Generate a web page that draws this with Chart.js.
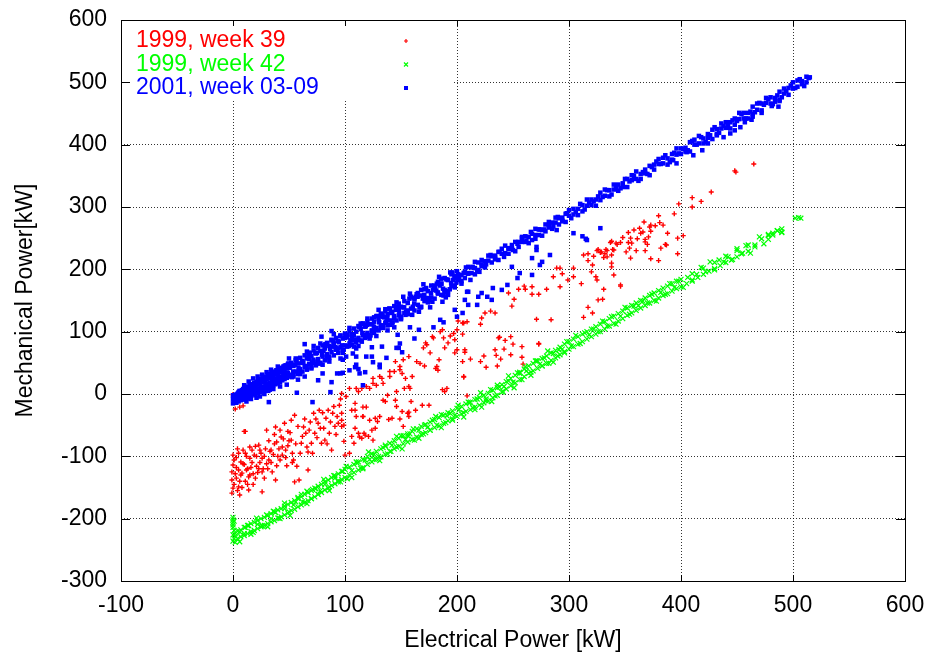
<!DOCTYPE html>
<html lang="en">
<head>
    <meta charset="UTF-8">
    <title>Mechanical vs Electrical Power</title>
    <script src="https://cdn.jsdelivr.net/npm/chart.js"></script>
    <style>
        body {
            margin: 0;
            padding: 0;
            background-color: #ffffff;
        }

        .wrap {
            width: 931px;
            height: 652px;
        }
    </style>
</head>
<body>
    <div class="wrap">
        <canvas id="powerChart" width="931" height="652"></canvas>
    </div>

    <script>
        // axis ranges and tick step
        const xRange = [-100, 600];
        const yRange = [-300, 600];
        const tickStep = 100;

        const seriesNames = ['1999, week 39', '1999, week 42', '2001, week 03-09'];
        const seriesColors = ['#ff0000', '#00ff00', '#0000ff'];

        // 1999, week 39  [electrical kW, mechanical kW]
        const week39 = [
            [0,-1],[2,-24],[9,-19],[6,-21],[10,-60],
            [-1,-159],[0,-151],[-1,-138],[-1,-125],[0,-114],[0,-98],[1,-106],[6,-162],[5,-149],[3,-135],[5,-122],
            [7,-109],[5,-95],[9,-90],[11,-60],[14,-154],[14,-133],[12,-122],[15,-103],[17,-90],[20,-84],[23,-82],
            [21,-116],[20,-135],[26,-125],[26,-157],[30,-58],[32,-106],[34,-90],[38,-138],[38,-53],[39,-77],
            [42,-106],[43,-69],[46,-47],[47,-90],[49,-60],[52,-42],[52,-74],[55,-34],[54,-106],[57,-116],[59,-138],
            [61,-79],[63,-53],[65,-63],[67,-93],[67,-122],[69,-45],[70,-79],[72,-31],[73,-63],[76,-47],[77,-26],
            [79,-79],[81,-55],[82,-74],[83,-39],[85,-26],[86,-63],[88,-90],[89,-31],[91,-52],[94,-47],[95,-18],
            [97,-31],[99,-50],[55,-141],
            [1,-145],[2,-128],[3,-118],[4,-155],[6,-140],[8,-127],[10,-113],[12,-100],[13,-145],[16,-118],
            [18,-128],[19,-98],[22,-126],[24,-110],[25,-95],[27,-120],[28,-100],[30,-112],[33,-92],[35,-125],
            [37,-80],[40,-100],[44,-85],[48,-115],[50,-75],[53,-95],
            [3,-102],[4,-88],[7,-130],[8,-150],[9,-112],[11,-95],[11,-140],[13,-120],[15,-85],[15,-130],
            [17,-110],[18,-145],[21,-100],[23,-120],[24,-90],[26,-103],[28,-135],[29,-88],[31,-120],[32,-75],
            [34,-110],[36,-97],[37,-65],[39,-115],[41,-88],[42,-58],[44,-98],[45,-72],[47,-102],[49,-83],
            [51,-62],[53,-110],[56,-80],[58,-52],[60,-95],[62,-68],[64,-40],[66,-85],[68,-58],[71,-95],
            [74,-40],[75,-70],[78,-55],[80,-30],[84,-80],[87,-45],[90,-20],[92,-65],[96,-8],[93,-36],
            [97,-42],[97,-52],[99,-76],[100,-98],[104,-95],[106,-68],[109,-55],[112,-63],[115,-71],[118,-66],
            [121,-68],[124,-58],[125,-74],[127,-55],[127,-39],[129,-44],[131,-36],[110,-36],[116,-36],[109,-26],
            [108,-79],[139,-41],[142,-39],[146,-20],[151,-28],[157,-36],[152,-52],[175,-18],
            [101,-4],[104,9],[106,-26],[109,-15],[112,4],[115,9],[116,-36],[119,12],[119,-21],[122,-42],[113,-69],
            [117,-63],[125,25],[128,14],[131,28],[134,-10],[138,-2],[140,28],[144,36],[146,4],[149,39],[152,55],
            [153,9],[156,-31],[157,12],[159,-12],[163,-26],[164,52],[169,-18],[170,74],[172,82],[176,66],[178,92],
            [181,41],[184,55],[187,103],[189,4],[191,9],[197,97],[198,66],[200,103],[206,114],[207,71],[209,-3],
            [97,1],[110,9],[122,9],[125,17],[133,25],[134,17],[136,-12],[140,36],[145,52],[149,44],[151,33],
            [154,25],[157,60],[158,9],[160,28],[157,-29],[167,49],[171,45],[173,79],[179,90],[182,44],[183,38],
            [185,100],[188,90],[187,7],[189,74],[192,82],[194,93],[198,87],[200,71],[201,117],[206,28],[145,-10],
            [149,-40],[116,-21],
            [205,96],[207,67],[205,52],[212,56],[206,27],[221,52],[224,61],[226,43],[234,71],[235,62],[236,45],
            [239,56],[238,91],[242,72],[248,92],[250,80],[248,63],[258,59],[259,48],[273,80],
            [205,114],[209,116],[221,112],[222,122],[225,130],[230,133],[234,130],[237,90],[243,86],[258,76],
            [246,162],[249,141],[251,152],[255,168],[260,173],[261,168],[267,172],[267,160],[273,160],[271,120],
            [273,81],[280,168],[284,119],[286,188],[289,202],[292,172],[292,202],[294,193],[299,183],[304,188],
            [304,202],[311,177],[313,123],[317,139],[321,130],[317,225],[317,214],[320,196],[321,207],[324,188],
            [325,183],[325,230],[326,151],[328,227],[330,152],[331,168],[331,219],[332,225],[334,230],[340,191],
            [346,173],
            [329,228],[334,220],[337,243],[340,231],[338,210],[338,204],[342,242],[346,243],[346,175],[348,251],
            [351,228],[353,243],[353,259],[355,250],[358,263],[360,230],[361,249],[363,266],[364,258],[367,276],
            [366,260],[368,248],[368,230],[370,240],[371,252],[372,268],[373,261],[373,271],[373,217],[377,270],
            [380,286],[380,214],[381,275],[382,234],[384,271],[386,240],[388,258],[394,289],[397,250],[397,225],
            [398,305],[402,254],[410,300],[410,315],[418,309],[427,324],[448,358],[449,356],[465,369],
            [338,245],[343,240],[356,242],[354,234],[333,232],[326,232],[339,232],[338,223],[322,221],[313,223],
            [355,218],[368,244],[387,239]
        ];

        // 1999, week 42
        const week42 = [
            [0,-198],[0,-202],[0,-206],[0,-210],[0,-214],[1,-204],
            [0,-236],[0,-226],[1,-232],[2,-238],[2,-224],[4,-232],[4,-220],[7,-218],[7,-229],[10,-227],[10,-214],
            [13,-211],[13,-224],[16,-221],[16,-208],[19,-206],[19,-219],[22,-216],[22,-203],[25,-200],[25,-213],
            [28,-211],[28,-198],[31,-195],[31,-208],[34,-205],[34,-192],[37,-189],[37,-203],[40,-199],[40,-186],
            [43,-184],[43,-197],[46,-194],[46,-180],[49,-177],[49,-191],[52,-187],[52,-174],[55,-171],[55,-185],
            [58,-181],[58,-168],[61,-165],[61,-178],[64,-174],[64,-161],[67,-158],[67,-171],[70,-168],[70,-155],
            [73,-151],[73,-165],[76,-161],[76,-148],[79,-145],[79,-158],[82,-154],[82,-141],[85,-138],[85,-151],
            [88,-147],[88,-134],[91,-131],[91,-144],[94,-141],[94,-128],[97,-124],[97,-137],[100,-134],[100,-121],
            [104,-117],[104,-130],[108,-126],[108,-113],[112,-109],[112,-122],[116,-118],[116,-105],[120,-100],
            [120,-113],[124,-109],[124,-96],[128,-92],[128,-105],[132,-101],[132,-88],[136,-84],[136,-97],
            [140,-92],[140,-79],[144,-75],[144,-88],[148,-84],[148,-71],[152,-67],[152,-80],[156,-77],[156,-64],
            [160,-60],[160,-73],[164,-69],[164,-56],[168,-52],[168,-65],[172,-62],[172,-49],[176,-45],[176,-58],
            [180,-54],[180,-41],[184,-38],[184,-51],[188,-47],[188,-34],[192,-30],[192,-43],[196,-40],[196,-27],
            [200,-23],[200,-36],
            [204,-32],[204,-20],[208,-16],[208,-28],[212,-25],[212,-13],[216,-9],[216,-21],[220,-18],[220,-6],
            [224,-2],[224,-14],[228,-11],[228,1],[232,6],[232,-6],[236,-2],[236,10],[240,15],[240,3],[244,8],
            [244,20],[248,25],[248,13],[252,18],[252,30],[256,35],[256,23],[260,28],[260,40],[264,45],[264,33],
            [268,37],[268,49],[272,53],[272,41],[276,45],[276,57],[280,61],[280,49],[284,54],[284,66],[288,70],
            [288,58],[292,63],[292,75],[296,80],[296,68],[300,72],[300,84],
            [304,88],[304,76],[308,80],[308,92],[312,96],[312,84],[316,88],[316,100],[320,104],[320,92],[324,96],
            [324,108],[328,112],[328,100],[332,104],[332,116],[336,121],[336,109],[340,113],[340,125],[344,129],
            [344,117],[348,121],[348,133],[352,138],[352,126],[356,130],[356,142],[360,146],[360,134],[364,138],
            [364,150],[368,154],[368,142],[372,146],[372,158],[376,162],[376,150],[380,154],[380,166],[384,170],
            [384,158],[388,161],[388,173],[392,177],[392,165],[396,169],[396,181],[400,184],[400,172],
            [405,177],[410,193],[410,183],[415,187],[420,202],[420,192],[425,197],[430,211],[430,201],[435,206],
            [440,221],[440,211],[445,215],[450,230],[450,220],[455,226],[460,239],[460,229],[466,236],[472,249],
            [478,256],[478,248],[482,258],[486,262],[490,265],[490,260],[502,282],[505,283],[507,282],
            [2,-228],[6,-221],[10,-224],[14,-211],[18,-222],[22,-209],[26,-212],[30,-194],[34,-200],[38,-190],
            [42,-200],[46,-184],[50,-189],[54,-178],[58,-166],[62,-173],[66,-156],[70,-168],[74,-152],[78,-155],
            [82,-145],[86,-149],[90,-131],[94,-139],[98,-124],[102,-136],[106,-123],[110,-109],[114,-119],[118,-106],
            [122,-105],[126,-97],[130,-100],[134,-86],[138,-96],[142,-82],[146,-85],[150,-67],[154,-73],[158,-64],
            [162,-74],[166,-58],[170,-64],[174,-53],[178,-42],[182,-50],[186,-33],[190,-46],[194,-31],[198,-34],
            [202,-25],[206,-30],[210,-13],[214,-22],[218,-8],[222,-21],[226,-8],[230,7],[234,-3],[238,11],
            [242,12],[246,21],[250,19],[254,34],[258,23],[262,37],[266,35],[270,53],[274,48],[278,58],
            [282,49],[286,65],[290,61],[294,72],[298,84],[302,77],[306,94],[310,81],[314,98],[318,95],
            [322,104],[326,100],[330,117],[334,109],[338,124],[342,112],[346,125],[350,139],[354,128],[358,141],
            [362,142],[366,149],[370,146],[374,160],[378,149],[382,163],[386,160],[390,177],[394,171],[398,181],
            [402,171],[406,187],[410,181],[414,192],[418,203],[422,196],[426,212],[430,199],[434,215],[438,212],
            [442,220],[446,216],[450,233],[454,225],[458,238],[462,226],[466,239],[470,252],[474,241],[478,254],
            [482,255],[486,262],[490,259],
            [1,-219],[6,-237],[11,-214],[16,-225],[21,-199],[26,-211],[31,-213],[36,-188],[41,-199],[46,-175],
            [51,-195],[56,-173],[61,-161],[66,-176],[71,-153],[76,-161],[81,-137],[86,-155],[91,-135],[96,-141],
            [101,-116],[106,-134],[111,-111],[116,-120],[121,-93],[126,-105],[131,-107],[136,-82],[141,-92],
            [146,-68],[151,-88],[156,-67],[161,-56],[166,-71],[171,-50],[176,-58],[181,-36],[186,-54],[191,-35],
            [196,-42],[201,-18],[206,-37],[211,-14],[216,-25],[221,2],[226,-11],[231,-12],[236,14],[241,4],
            [246,29],[251,10],[256,33],[261,44],[266,30],[271,53],[276,45],[281,69],[286,51],[291,71],[296,66]
        ];

        // 2001, week 03-09
        const week0309 = [
            [0,-15],[0,-8],[0,-2],[1,-12],[1,-5],[2,-10],[2,-1],[3,-14],[3,-6],[4,0],[4,-9],[5,-12],[5,3],[6,-5],
            [6,5],[7,-10],[7,1],[8,6],[8,-6],[9,-3],[9,8],[10,-9],[10,3],[11,10],[11,-2],[12,5],[12,-7],[13,12],
            [13,0],[14,-5],[14,7],[15,14],[15,2],[16,-3],[16,9],[17,16],[17,3],[18,0],[18,11],[19,18],[19,5],
            [20,-2],[20,13],[21,20],[21,7],[22,1],[22,15],[23,22],[23,9],[24,3],[24,17],[25,24],[25,10],
            [26,4],[26,19],[27,25],[27,12],[28,6],[28,21],[29,28],[29,14],[30,8],[30,23],[31,30],[31,16],[32,10],
            [32,25],[33,32],[33,18],[34,12],[34,27],[35,34],[35,20],[36,14],[36,29],[37,36],[37,22],[38,16],
            [38,31],[39,38],[39,24],[40,18],[40,33],[41,40],[41,26],[42,20],[42,35],[43,42],[43,28],[44,22],
            [44,37],[45,44],[45,30],[46,24],[46,39],[47,46],[47,32],[48,26],[48,41],[49,48],[49,34],[50,28],[50,43],
            [52,50],[52,31],[54,45],[54,28],[56,54],[56,36],[58,49],[58,32],[60,58],[60,40],[62,53],[62,36],
            [64,62],[64,44],[66,57],[66,39],[68,66],[68,48],[70,61],[70,43],[72,70],[72,52],[74,65],[74,46],
            [76,74],[76,56],[78,69],[78,50],[80,78],[80,60],[82,73],[82,54],[84,82],[84,64],[86,77],[86,58],
            [88,86],[88,67],[90,81],[90,62],[92,90],[92,71],[94,85],[94,66],[96,94],[96,75],[98,89],[98,70],
            [100,97],[100,78],[64,80],[79,92],[88,101],
            [102,92],[102,76],[104,101],[104,81],[106,96],[106,79],[108,105],[108,86],[110,100],[110,83],
            [112,109],[112,90],[114,104],[114,86],[116,113],[116,94],[118,108],[118,90],[120,117],[120,98],
            [122,112],[122,94],[124,121],[124,102],[126,116],[126,98],[128,125],[128,106],[130,120],[130,102],
            [132,129],[132,110],[134,124],[134,106],[136,133],[136,114],[138,128],[138,110],[140,137],[140,118],
            [142,132],[142,114],[144,141],[144,122],[146,136],[146,118],[148,145],[148,126],[150,140],[150,122],
            [153,149],[153,130],[156,146],[156,128],[159,156],[159,137],[162,152],[162,134],[165,162],[165,143],
            [168,158],[168,140],[171,168],[171,149],[174,165],[174,147],[177,174],[177,155],[180,171],[180,153],
            [183,180],[183,161],[186,177],[186,159],[189,186],[189,167],[192,183],[192,165],[195,192],[195,173],
            [198,189],[198,171],
            // fill of the dense band, low load
            [1.5,-7],[4.5,1],[7.5,-5],[10.5,9],[13.5,-7],[16.5,7],[19.5,2],[22.5,22],[25.5,11],[28.5,22],
            [31.5,5],[34.5,25],[37.5,16],[40.5,28],[43.5,40],[46.5,28],[49.5,49],[52.5,27],[55.5,47],[58.5,42],
            [61.5,50],[64.5,43],[67.5,63],[70.5,50],[73.5,66],[76.5,49],[79.5,63],[82.5,80],[85.5,60],[88.5,76],
            [91.5,75],[94.5,83],[97.5,78],[100.5,93],[103.5,77],[106.5,92],[109.5,87],[112.5,108],[115.5,98],
            [118.5,109],[121.5,92],[124.5,112],[127.5,103],[130.5,115],[133.5,127],[136.5,116],[139.5,137],
            [142.5,115],[145.5,135],[148.5,130],[151.5,139],[154.5,132],[157.5,153],[160.5,140],[163.5,156],
            [166.5,139],[169.5,153],[172.5,170],[175.5,151],[178.5,167],[181.5,166],[184.5,174],[187.5,169],
            [190.5,184],[193.5,168],[196.5,183],[199.5,179],
            [2.8,-8],[5.8,4],[8.8,-7],[11.8,4],[14.8,3],[17.8,8],[20.8,2],[23.8,22],[26.8,9],[29.8,25],
            [32.8,7],[35.8,21],[38.8,38],[41.8,19],[44.8,35],[47.8,34],[50.8,42],[53.8,36],[56.8,51],[59.8,35],
            [62.8,50],[65.8,45],[68.8,66],[71.8,55],[74.8,66],[77.8,49],[80.8,69],[83.8,60],[86.8,72],[89.8,84],
            [92.8,72],[95.8,93],[98.8,71],[101.8,91],[104.8,86],[107.8,94],[110.8,87],[113.8,108],[116.8,95],
            [119.8,111],[122.8,94],[125.8,108],[128.8,125],[131.8,106],[134.8,123],[137.8,122],[140.8,130],
            [143.8,125],[146.8,140],[149.8,124],[152.8,139],[155.8,134],[158.8,155],[161.8,145],[164.8,156],
            [167.8,139],[170.8,159],[173.8,150],[176.8,162],[179.8,174],[182.8,163],[185.8,185],[188.8,163],
            [191.8,183],[194.8,178],[197.8,186],
            // outer edges of the dense band
            [10,14],[14,20],[18,25],[22,28],[26,31],[30,35],[34,39],[12,-12],[16,-8],[24,-4],[28,0],[36,8],
            [40,44],[44,24],[48,15],[52,47],[56,57],[60,32],[64,28],[68,56],[72,77],[76,50],[80,47],[84,80],
            [88,87],[92,73],[96,57],[100,90],[104,106],[108,76],[112,77],[116,113],[120,121],[124,101],[128,93],
            [132,125],[136,136],[140,111],[144,107],[148,135],[152,156],[156,130],[160,127],[164,160],[168,167],
            [172,153],[176,139],[180,172],[184,188],[188,158],[192,159],[196,195],[200,197],[204,177],[208,203],
            [212,183],[216,212],[220,196],
            [42,12],[46,45],[50,57],[54,32],[58,23],[62,52],[66,68],[70,41],[74,48],[78,81],[82,74],[86,52],
            [90,96],[94,73],[98,66],[102,95],[106,95],[110,73],[114,113],[118,92],[122,89],[126,123],[130,135],
            [134,110],[138,102],[142,131],[146,147],[150,120],[154,127],[158,161],[162,154],[166,132],[170,176],
            [174,154],[178,148],[182,177],[186,177],[190,155],[194,195],[198,174],
            // band above 200 kW
            [201,192],[201,183],[204,181],[204,191],[207,196],[207,186],[210,204],[210,194],[213,194],[213,203],
            [216,202],[216,192],[219,211],[219,199],[222,205],[222,215],[225,213],[225,203],[228,222],[228,214],
            [231,211],[231,221],[234,222],[234,216],[237,228],[237,215],[240,225],[240,233],[243,238],[243,226],
            [246,225],[246,233],[249,239],[249,233],[252,244],[252,229],[255,236],[255,244],[258,244],[258,252],
            [261,253],[261,244],[264,242],[264,252],[267,257],[267,247],[270,265],[270,255],[273,255],[273,264],
            [276,263],[276,254],[279,272],[279,261],[282,267],[282,276],[285,275],[285,265],[288,283],[288,275],
            [291,272],[291,282],[294,283],[294,277],[297,289],[297,276],[300,286],[300,295],
            [304,297],[304,288],[308,287],[308,297],[312,303],[312,293],[316,312],[316,302],[320,303],[320,312],
            [324,312],[324,302],[328,323],[328,311],[332,318],[332,328],[336,327],[336,317],[340,336],[340,328],
            [344,326],[344,336],[348,338],[348,332],[352,345],[352,332],[356,343],[356,351],[360,357],[360,345],
            [364,345],[364,353],[368,360],[368,354],[372,366],[372,351],[376,360],[376,368],[380,369],[380,377],
            [384,379],[384,370],[388,368],[388,378],[392,385],[392,376],[396,394],[396,384],[400,385],[400,394],
            [404,395],[404,389],[408,404],[408,389],[412,400],[412,408],[416,414],[416,402],[420,402],[420,410],
            [424,417],[424,411],[428,424],[428,409],[432,417],[432,425],[436,426],[436,434],[440,436],[440,427],
            [444,426],[444,436],[448,442],[448,432],[452,451],[452,441],[456,442],[456,451],[460,451],[460,442],
            [464,461],[464,449],[468,456],[468,466],[472,466],[472,455],[476,475],[476,467],[480,466],[480,476],
            [484,475],[484,469],[488,485],[488,470],[492,482],[492,490],[496,491],[496,480],[500,500],[500,490],
            [504,493],[504,503],[508,502],[508,497],[512,509],[512,500],[515,508],
            [202,187],[206,194],[210,193],[214,204],[218,197],[222,208],[226,208],[230,223],[234,219],[238,228],
            [242,220],[246,234],[250,231],[254,241],[258,250],[262,246],[266,260],[270,249],[274,264],[278,264],
            [282,271],[286,269],[290,284],[294,278],[298,290],[302,282],[306,292],[310,305],[314,296],[318,307],
            [322,309],[326,317],[330,316],[334,327],[338,320],[342,331],[346,330],[350,345],[354,341],[358,350],
            [362,342],[366,356],[370,353],[374,364],[378,373],[382,369],[386,383],[390,372],[394,387],[398,386],
            [402,393],[406,391],[410,406],[414,400],[418,412],[422,404],[426,415],[430,428],[434,419],[438,430],
            [442,432],[446,439],[450,438],[454,449],[458,442],[462,453],[466,452],[470,467],[474,464],[478,473],
            [482,465],[486,479],[490,476],[494,486],[498,495],[502,491],[506,505],[510,494],[514,507],
            // points below the main band
            [21,-6],[32,-13],[57,2],[71,-13],[76,22],[80,33],[87,3],[88,19],[93,33],[98,55],[104,38],[110,47],
            [113,33],[107,65],[124,75],[131,47],[137,58],[146,74],[149,81],[158,107],[162,89],[179,107],[188,115],
            [96,33],[112,40],[101,60],[110,60],[115,84],[119,60],[124,60],[125,51],[133,76],[131,43],[147,95],
            [148,74],[151,67],[166,103],[185,119],[187,148],[198,135],[200,124],[210,164],[210,143],[109,43],
            [118,35],[98,34],[116,14],[267,218],[271,231],[276,212],[274,207],[283,223],[249,204],[256,194],
            [254,186],[267,191],[245,175],[240,167],[232,170],[231,151],[227,156],[222,162],[219,156],[209,164],
            [207,151],[218,143],[205,130],[304,258],[312,253],[316,247],[328,266],[271,236],[315,249],[289,263],
            // lower branch at high load
            [393,375],[396,370],[405,388],[411,383],[419,391],[424,402],[432,415],[438,412],[444,418],[448,423],
            [453,428],[457,436],[463,440],[464,445],[472,451],[481,462],[487,461],[488,472]
        ];

        const series = [week39, week42, week0309];
        const pointStyles = ['cross', 'crossRot', 'rect'];
        const pointSizes = [2.5, 3.5, 3.2];
        const pointWidths = [1.4, 1.2, 0];

        const fontFamily = '"Liberation Sans", Arial, Helvetica, sans-serif';
        Chart.defaults.font.family = fontFamily;
        Chart.defaults.color = '#000';

        // gnuplot style key: text first, marker sample after, on a cleared box
        const keyBox = {
            id: 'keyBox',
            beforeDatasetsDraw(chart) {
                const ctx = chart.ctx;
                const a = chart.chartArea;
                ctx.save();
                ctx.fillStyle = '#ffffff';
                ctx.fillRect(a.left + 1, a.top + 1, 330, 78);
                ctx.font = '23px ' + fontFamily;
                ctx.textBaseline = 'middle';
                ctx.textAlign = 'left';
                seriesNames.forEach((name, i) => {
                    const ty = a.top + 21 + i * 23.5;
                    ctx.fillStyle = seriesColors[i];
                    ctx.fillText(name, a.left + 15, ty);
                    const mx = a.left + 285;
                    ctx.strokeStyle = seriesColors[i];
                    ctx.lineWidth = 1.2;
                    ctx.beginPath();
                    if (pointStyles[i] === 'cross') {
                        ctx.moveTo(mx - 2, ty); ctx.lineTo(mx + 2, ty);
                        ctx.moveTo(mx, ty - 2); ctx.lineTo(mx, ty + 2);
                        ctx.stroke();
                    } else if (pointStyles[i] === 'crossRot') {
                        ctx.moveTo(mx - 2, ty - 2); ctx.lineTo(mx + 2, ty + 2);
                        ctx.moveTo(mx - 2, ty + 2); ctx.lineTo(mx + 2, ty - 2);
                        ctx.stroke();
                    } else {
                        ctx.fillRect(mx - 2, ty - 2, 4, 4);
                    }
                });
                ctx.restore();
            }
        };

        // solid frame with inward tick marks on all four sides
        const frame = {
            id: 'frame',
            afterDraw(chart) {
                const ctx = chart.ctx;
                const a = chart.chartArea;
                const xs = chart.scales.x;
                const ys = chart.scales.y;
                ctx.save();
                ctx.strokeStyle = '#000';
                ctx.lineWidth = 1;
                ctx.beginPath();
                xs.ticks.forEach(t => {
                    const px = Math.round(xs.getPixelForValue(t.value)) + 0.5;
                    ctx.moveTo(px, a.bottom); ctx.lineTo(px, a.bottom - 6);
                    ctx.moveTo(px, a.top); ctx.lineTo(px, a.top + 6);
                });
                ys.ticks.forEach(t => {
                    const py = Math.round(ys.getPixelForValue(t.value)) + 0.5;
                    ctx.moveTo(a.left, py); ctx.lineTo(a.left + 9, py);
                    ctx.moveTo(a.right, py); ctx.lineTo(a.right - 9, py);
                });
                ctx.stroke();
                ctx.strokeRect(Math.round(a.left) + 0.5, Math.round(a.top) + 0.5,
                    Math.round(a.right - a.left), Math.round(a.bottom - a.top));
                ctx.restore();
            }
        };

        const gridOpts = { color: 'rgba(0,0,0,0.8)', lineWidth: 1, drawTicks: false };
        const borderOpts = { display: false, dash: [1, 2] };

        new Chart(document.getElementById('powerChart'), {
            type: 'scatter',
            data: {
                datasets: series.map((pts, i) => ({
                    label: seriesNames[i],
                    data: pts.map(p => ({ x: p[0], y: p[1] })),
                    pointStyle: pointStyles[i],
                    pointRadius: pointSizes[i],
                    pointBorderWidth: pointWidths[i],
                    borderColor: seriesColors[i],
                    backgroundColor: seriesColors[i],
                    showLine: false,
                    order: 2 - i
                }))
            },
            options: {
                responsive: false,
                animation: false,
                devicePixelRatio: 1,
                layout: { padding: { top: 20, right: 26, bottom: 0, left: 0 } },
                plugins: {
                    legend: { display: false },
                    tooltip: { enabled: false }
                },
                scales: {
                    x: {
                        type: 'linear',
                        min: xRange[0],
                        max: xRange[1],
                        ticks: { stepSize: tickStep, padding: 11, font: { size: 23 }, color: '#000' },
                        grid: gridOpts,
                        border: borderOpts,
                        title: {
                            display: true,
                            text: 'Electrical Power [kW]',
                            color: '#000',
                            font: { size: 23, lineHeight: 1 },
                            padding: { top: 0, bottom: 0 }
                        },
                        afterFit(s) {
                            s.height = 71;
                            s.paddingLeft = 0;
                            s.paddingRight = 0;
                        }
                    },
                    y: {
                        type: 'linear',
                        min: yRange[0],
                        max: yRange[1],
                        ticks: { stepSize: tickStep, padding: 14, font: { size: 23 }, color: '#000' },
                        grid: gridOpts,
                        border: borderOpts,
                        title: {
                            display: true,
                            text: 'Mechanical Power[kW]',
                            color: '#000',
                            font: { size: 23, lineHeight: 1 },
                            padding: { top: 14, bottom: 0 }
                        },
                        afterFit(s) {
                            s.width = 121;
                            s.paddingTop = 0;
                            s.paddingBottom = 0;
                        }
                    }
                }
            },
            plugins: [keyBox, frame]
        });
    </script>
</body>
</html>
